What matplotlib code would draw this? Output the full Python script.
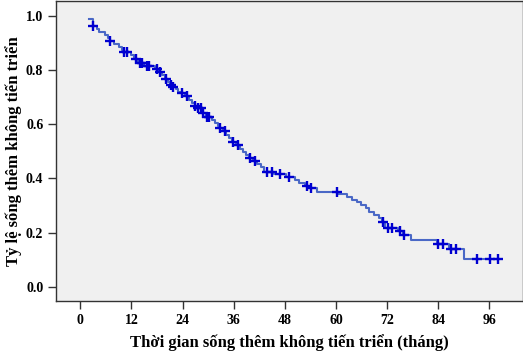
import matplotlib.pyplot as plt
import numpy as np

plt.rcParams['font.family'] = ['Liberation Serif', 'DejaVu Serif']
plt.rcParams['font.weight'] = 'bold'

# Kaplan-Meier step curve: time (months) at which survival drops, and the new level
start_time = 2.1
start_surv = 0.988
event_times = [2.9, 3.8, 4.4, 5.8, 6.5, 6.9, 8.0, 9.0, 9.8, 10.1, 11.8, 12.6, 12.9,
               13.5, 15.0, 17.5, 18.4, 19.2, 19.8, 20.6, 21.1, 21.7, 22.4, 23.0, 23.6,
               24.6, 25.5, 26.3, 26.8, 27.5, 28.7, 29.4, 30.8, 31.5, 32.2, 32.6, 33.5,
               34.3, 35.0, 35.6, 36.6, 37.5, 38.2, 38.9, 39.5, 40.5, 41.5, 42.3, 43.2,
               45.5, 48.2, 50.5, 51.3, 52.8, 53.8, 55.5, 60.5, 62.5, 63.8, 65.0, 65.8,
               67.0, 67.8, 69.0, 70.0, 70.8, 71.6, 74.5, 75.7, 77.5, 83.7, 86.5, 90.0]
event_surv = [0.963, 0.951, 0.940, 0.930, 0.918, 0.907, 0.896, 0.885, 0.874, 0.867, 0.856,
              0.845, 0.839, 0.826, 0.815, 0.804, 0.792, 0.780, 0.768, 0.757, 0.745, 0.736,
              0.728, 0.720, 0.714, 0.702, 0.690, 0.678, 0.666, 0.659, 0.640, 0.628, 0.616,
              0.604, 0.592, 0.585, 0.573, 0.561, 0.549, 0.536, 0.522, 0.510, 0.498, 0.486,
              0.475, 0.466, 0.453, 0.441, 0.424, 0.415, 0.405, 0.394, 0.383, 0.374, 0.364,
              0.352, 0.343, 0.333, 0.321, 0.312, 0.303, 0.290, 0.278, 0.266, 0.254, 0.241,
              0.217, 0.207, 0.193, 0.173, 0.157, 0.140, 0.105]
end_time = 98.1

# censored observations
censor_times = [2.95, 7.0, 10.2, 10.9, 13.0, 14.0, 14.4, 15.6, 16.1, 17.9, 18.7, 20.1,
                21.2, 21.8, 23.8, 25.0, 27.0, 27.7, 28.3, 28.9, 29.7, 30.3, 32.8, 33.9,
                35.9, 37.1, 39.8, 41.0, 43.9, 44.9, 46.9, 48.9, 53.1, 54.1, 60.2, 71.1,
                72.1, 73.1, 75.0, 75.9, 84.0, 85.2, 86.9, 88.2, 93.2, 96.2, 98.1]


def surv_at(t):
    s = start_surv
    for et, es in zip(event_times, event_surv):
        if et <= t:
            s = es
    return s


fig = plt.figure(figsize=(5.23, 3.54), dpi=100)
ax = fig.add_axes([0.108, 0.1506, 0.892, 0.8454])
ax.set_facecolor('#f0f0f0')

xs = [start_time] + event_times + [end_time]
ys = [start_surv] + event_surv + [event_surv[-1]]
ax.step(xs, ys, where='post', color='#4a68c6', lw=1.5)
ax.plot(censor_times, [surv_at(t) for t in censor_times], ls='none', marker='+',
        ms=6.5, mew=1.7, color='#0000d0')

ax.set_xlim(-5.6, 103.9)
ax.set_ylim(-0.05, 1.052)
ax.set_xticks(np.arange(0, 97, 12))
ax.set_yticks(np.arange(0, 1.01, 0.2))
ax.set_yticklabels([f'{v:.1f}' for v in np.arange(0, 1.01, 0.2)])
ax.tick_params(direction='out', length=6, width=1, color='#333333', labelsize=10)
for sp in ax.spines.values():
    sp.set_color('#333333')
    sp.set_linewidth(1)

ax.set_xlabel('Thời gian sống thêm không tiến triển (tháng)', fontsize=12,
              fontweight='bold', labelpad=5)
ax.set_ylabel('Tỷ lệ sống thêm không tiến triển', fontsize=12,
              fontweight='bold', labelpad=3)

fig.savefig('out.png', dpi=100)
